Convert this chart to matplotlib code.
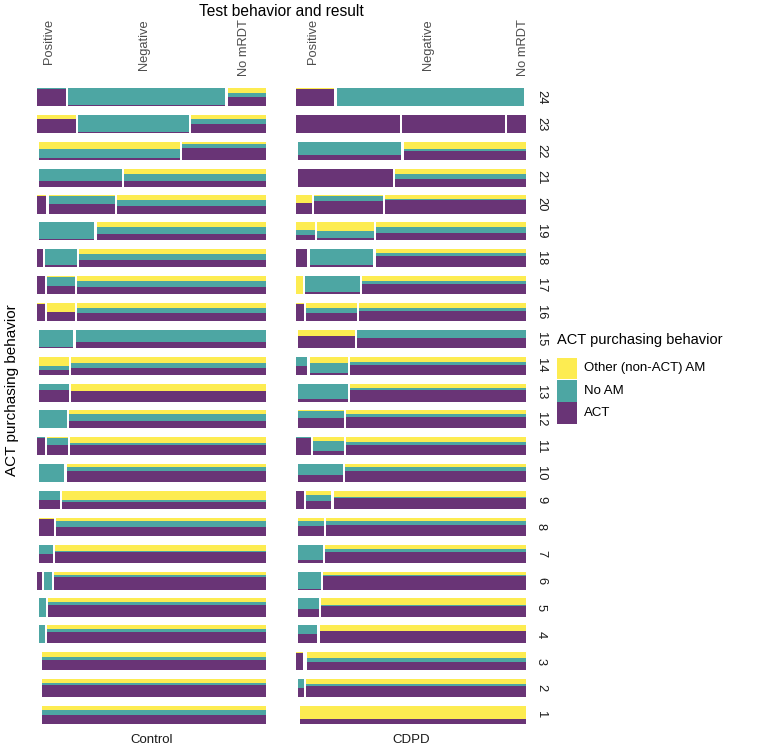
import matplotlib
matplotlib.use('Agg')
import matplotlib.pyplot as plt
from matplotlib.patches import Rectangle
from matplotlib.transforms import blended_transform_factory, offset_copy
import numpy as np

plt.rcParams['font.family'] = ['Liberation Sans', 'DejaVu Sans']

# ---------------- data ----------------
rows = list(range(24, 0, -1))                 # top to bottom
test_levels = ['Positive', 'Negative', 'No mRDT']
act_levels = ['ACT', 'No AM', 'Other (non-ACT) AM']
panels = ['Control', 'CDPD']

# column widths (Positive, Negative, No mRDT) per row, rows 24 -> 1
ctrl_width = [
    [0.125, 0.69, 0.17], [0.17, 0.49, 0.33], [0, 0.62, 0.37], [0, 0.36, 0.62],
    [0.04, 0.29, 0.65], [0, 0.24, 0.74], [0.025, 0.14, 0.82], [0.035, 0.12, 0.83],
    [0.035, 0.12, 0.83], [0, 0.15, 0.84], [0, 0.13, 0.86], [0, 0.13, 0.86],
    [0, 0.12, 0.86], [0.035, 0.09, 0.86], [0, 0.11, 0.88], [0, 0.09, 0.90],
    [0, 0.065, 0.92], [0, 0.06, 0.93], [0.02, 0.035, 0.93], [0, 0.03, 0.96],
    [0, 0.025, 0.96], [0, 0, 1], [0, 0, 1], [0, 0, 1]]

# shares within each column: (Positive, Negative, No mRDT)
ctrl_act = [
    [0.97, 0.05, 0.50], [0.75, 0.05, 0.50], [0, 0.08, 0.68], [0, 0.33, 0.33],
    [0.95, 0.52, 0.40], [0, 0.08, 0.38], [1, 0.10, 0.38], [1, 0.45, 0.38],
    [0.95, 0.50, 0.42], [0, 0.04, 0.35], [0, 0.25, 0.37], [0, 0.65, 0.58],
    [0, 0.02, 0.40], [0.95, 0.55, 0.55], [0, 0.02, 0.62], [0, 0.50, 0.38],
    [0, 0.95, 0.50], [0, 0.50, 0.62], [1, 0, 0.70], [0, 0, 0.64],
    [0, 0, 0.63], [0, 0, 0.58], [0, 0, 0.66], [0, 0, 0.52]]
ctrl_noam = [
    [0.03, 0.95, 0.22], [0, 0.93, 0.27], [0, 0.50, 0.18], [0, 0.67, 0.37],
    [0, 0.46, 0.36], [0, 0.92, 0.35], [0, 0.90, 0.35], [0, 0.50, 0.35],
    [0, 0, 0.28], [0, 0.96, 0.63], [0, 0.25, 0.30], [0, 0.35, 0.02],
    [0, 0.98, 0.38], [0.05, 0.42, 0.12], [0, 0.98, 0.20], [0, 0.50, 0.12],
    [0, 0, 0.30], [0, 0.50, 0.05], [0, 1, 0.12], [0, 1, 0.18],
    [0, 1, 0.15], [0, 0, 0.17], [0, 0, 0.10], [0, 0, 0.25]]
ctrl_other = [
    [0, 0, 0.28], [0.25, 0.02, 0.23], [0, 0.42, 0.14], [0, 0, 0.30],
    [0.05, 0.02, 0.24], [0, 0, 0.27], [0, 0, 0.27], [0, 0.05, 0.27],
    [0.05, 0.50, 0.30], [0, 0, 0.02], [0, 0.50, 0.33], [0, 0, 0.40],
    [0, 0, 0.22], [0, 0.03, 0.33], [0, 0, 0.18], [0, 0, 0.50],
    [0, 0.05, 0.20], [0, 0, 0.33], [0, 0, 0.18], [0, 0, 0.18],
    [0, 0, 0.22], [0, 0, 0.25], [0, 0, 0.24], [0, 0, 0.23]]

cdpd_width = [
    [0.17, 0.83, 0], [0.46, 0.455, 0.085], [0, 0.455, 0.54], [0, 0.42, 0.58],
    [0.07, 0.30, 0.62], [0.085, 0.25, 0.66], [0.05, 0.28, 0.66], [0.03, 0.24, 0.72],
    [0.035, 0.22, 0.73], [0, 0.25, 0.74], [0.05, 0.17, 0.77], [0, 0.22, 0.77],
    [0, 0.20, 0.79], [0.065, 0.14, 0.80], [0, 0.20, 0.80], [0.035, 0.11, 0.84],
    [0, 0.115, 0.88], [0, 0.11, 0.88], [0, 0.10, 0.89], [0, 0.09, 0.90],
    [0, 0.085, 0.91], [0.03, 0, 0.96], [0, 0.027, 0.97], [0, 0, 1]]
cdpd_act = [
    [0.97, 0.02, 0], [0.98, 0.98, 0.98], [0, 0.27, 0.50], [0, 0.98, 0.42],
    [0.60, 0.70, 0.77], [0.30, 0.15, 0.40], [1, 0.10, 0.60], [0, 0.12, 0.55],
    [0.95, 0.42, 0.58], [0, 0.67, 0.55], [0.50, 0.08, 0.55], [0, 0.12, 0.62],
    [0, 0.60, 0.65], [0.95, 0.22, 0.58], [0, 0.38, 0.62], [1, 0.42, 0.63],
    [0, 0.55, 0.60], [0, 0.13, 0.60], [0, 0.05, 0.74], [0, 0.40, 0.61],
    [0, 0.50, 0.67], [0.95, 0, 0.47], [0, 0.50, 0.62], [0, 0, 0.28]]
cdpd_noam = [
    [0, 0.98, 0], [0.02, 0.02, 0.02], [0, 0.73, 0.12], [0, 0, 0.28],
    [0, 0.25, 0.05], [0.25, 0.35, 0.33], [0, 0.90, 0.20], [0, 0.88, 0.20],
    [0, 0.30, 0.15], [0, 0, 0.45], [0.50, 0.59, 0.15], [0, 0.85, 0.12],
    [0, 0.35, 0.15], [0.05, 0.56, 0.15], [0, 0.62, 0.24], [0, 0.38, 0.02],
    [0, 0.25, 0.20], [0, 0.87, 0.18], [0, 0.95, 0.08], [0, 0.60, 0.02],
    [0, 0.50, 0.03], [0, 0, 0.22], [0, 0.50, 0.10], [0, 0, 0.02]]
cdpd_other = [
    [0.03, 0, 0], [0, 0, 0], [0, 0, 0.38], [0, 0.02, 0.30],
    [0.40, 0.05, 0.18], [0.45, 0.50, 0.27], [0, 0, 0.20], [1, 0, 0.25],
    [0.05, 0.28, 0.27], [0, 0.33, 0], [0, 0.33, 0.30], [0, 0.03, 0.26],
    [0, 0.05, 0.20], [0, 0.22, 0.27], [0, 0, 0.14], [0, 0.20, 0.35],
    [0, 0.20, 0.20], [0, 0, 0.22], [0, 0, 0.18], [0, 0, 0.37],
    [0, 0, 0.30], [0.05, 0, 0.31], [0, 0, 0.28], [0, 0, 0.70]]

panel_data = {
    'Control': (ctrl_width, ctrl_act, ctrl_noam, ctrl_other),
    'CDPD': (cdpd_width, cdpd_act, cdpd_noam, cdpd_other),
}

# ---------------- style ----------------
colors = {'ACT': '#693476', 'No AM': '#4DA6A3', 'Other (non-ACT) AM': '#FDEC51'}
GAP = 0.0095
BAR_H = 0.67
W, H = 768, 747
text_gray = '#4D4D4D'

fig = plt.figure(figsize=(W / 100, H / 100), dpi=100)

def fx(px):
    return px / W

def fy(py):
    return 1 - py / H

ax_bottom = fy(728.4)
ax_top = fy(83.6)
axes_x = {'Control': (37.3, 266.3), 'CDPD': (296.0, 526.0)}
axes = {}
for name in panels:
    x0, x1 = axes_x[name]
    ax = fig.add_axes([fx(x0), ax_bottom, fx(x1) - fx(x0), ax_top - ax_bottom])
    ax.set_xlim(0, 1 + 2 * GAP)
    ax.set_ylim(0.5, 24.5)
    ax.axis('off')
    axes[name] = ax

    widths, act, noam, other = panel_data[name]
    label_centers = None
    for i, r in enumerate(rows):
        w = np.array(widths[i], dtype=float)
        w = w / w.sum()
        x = 0.0
        centers = []
        for j in range(3):
            centers.append(x + w[j] / 2)
            if w[j] > 0:
                shares = np.array([act[i][j], noam[i][j], other[i][j]], dtype=float)
                shares = shares / shares.sum()
                y = r - BAR_H / 2
                for k, lev in enumerate(act_levels):
                    if shares[k] > 0:
                        ax.add_patch(Rectangle((x, y), w[j], BAR_H * shares[k],
                                               facecolor=colors[lev], edgecolor='none',
                                               linewidth=0))
                        y += BAR_H * shares[k]
            x += w[j] + GAP
        if r == 24:
            label_centers = centers

    # top tick labels at the column centres of the top row
    trans = blended_transform_factory(ax.transData, fig.transFigure)
    trans = offset_copy(trans, fig=fig, x=-2.5, y=0, units='dots')
    for j, lab in enumerate(test_levels):
        ax.text(label_centers[j], fy(19), lab, rotation=90, ha='center', va='top',
                fontsize=9.3, color=text_gray, transform=trans, clip_on=False)

    # bottom panel label
    fig.text((fx(x0) + fx(x1)) / 2, fy(740), name, ha='center', va='center',
             fontsize=9.5, color='#1A1A1A')

# right-side row labels
trans_r = blended_transform_factory(fig.transFigure, axes['CDPD'].transData)
for r in rows:
    axes['CDPD'].text(fx(541), r, str(r), rotation=-90, ha='center', va='center',
                      fontsize=9.3, color='#1A1A1A', transform=trans_r, clip_on=False)

# titles
fig.text(fx(281), fy(11), 'Test behavior and result', ha='center', va='center',
         fontsize=11.2, color='black')
fig.text(fx(12), fy(390), 'ACT purchasing behavior', rotation=90, ha='center',
         va='center', fontsize=11, color='black')

# legend (drawn manually)
fig.text(fx(557), fy(340), 'ACT purchasing behavior', ha='left', va='center',
         fontsize=10.5, color='black')
legend_order = ['Other (non-ACT) AM', 'No AM', 'ACT']
key_top = 357
key_h = 22.5
for k, lev in enumerate(legend_order):
    top = key_top + k * key_h
    fig.add_artist(Rectangle((fx(557), fy(top + key_h - 0.5)), fx(20), (key_h - 1) / H,
                             facecolor=colors[lev], edgecolor='none',
                             transform=fig.transFigure))
    fig.text(fx(584), fy(top + key_h / 2), lev, ha='left', va='center',
             fontsize=9.5, color='black')

fig.savefig('out.png', dpi=100, facecolor='white')
